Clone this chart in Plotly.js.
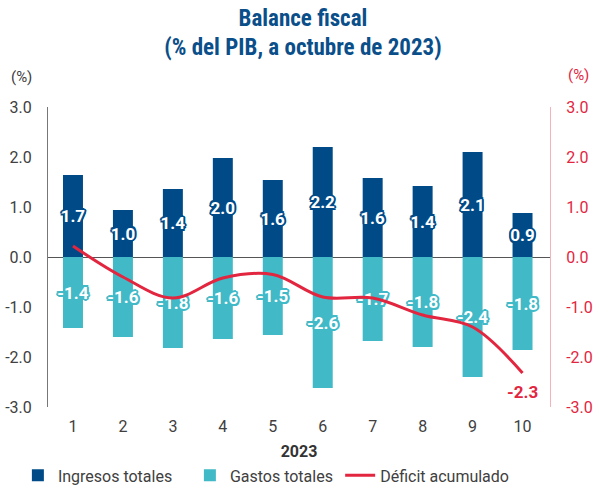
<!DOCTYPE html>
<html><head><meta charset="utf-8">
<script src="https://cdn.plot.ly/plotly-3.0.1.min.js"></script>
<style>body{margin:0;padding:0;background:#fff}#c{width:594px;height:491px}</style>
</head><body><div id="c"></div>
<script>
const months = [1,2,3,4,5,6,7,8,9,10];
const ingresos = [1.64,0.94,1.36,1.98,1.54,2.2,1.58,1.42,2.1,0.88];
const ingresosLabels = ["1.7","1.0","1.4","2.0","1.6","2.2","1.6","1.4","2.1","0.9"];
const gastos = [-1.42,-1.6,-1.82,-1.64,-1.56,-2.62,-1.68,-1.8,-2.4,-1.86];
const gastosLabels = ["-1.4","-1.6","-1.8","-1.6","-1.5","-2.6","-1.7","-1.8","-2.4","-1.8"];
const deficit = [0.22,-0.4,-0.82,-0.42,-0.35,-0.8,-0.82,-1.16,-1.4,-2.32];
const deficitLastLabel = "-2.3";
const tickVals = [-3,-2,-1,0,1,2,3];
const tickText = ["-3.0","-2.0","-1.0","0.0","1.0","2.0","3.0"];

const BLUE = "#004b87", TEAL = "#41b9c6", RED = "#e3263f";
function outline(c){
  const o=[];
  for(const [dx,dy] of [[-2,0],[2,0],[0,-2],[0,2],[-1.5,-1.5],[1.5,-1.5],[-1.5,1.5],[1.5,1.5]]) o.push(dx+"px "+dy+"px 0 "+c);
  return o.join(", ");
}
const FONT = "Roboto, 'Noto Sans', sans-serif";
const last = months.length-1;

const traces = [
 {type:"bar", name:"Ingresos totales", x:months, y:ingresos, marker:{color:BLUE}, width:0.4,
  text:ingresosLabels, texttemplate:"%{text}", textposition:"inside", insidetextanchor:"middle", constraintext:"none", textangle:0,
  textfont:{color:"#ffffff", size:17, family:FONT, weight:700, shadow:outline(BLUE)}, hoverinfo:"skip"},
 {type:"bar", name:"Gastos totales", x:months, y:gastos, marker:{color:TEAL}, width:0.4,
  text:gastosLabels, texttemplate:"%{text}", textposition:"inside", insidetextanchor:"middle", constraintext:"none", textangle:0,
  textfont:{color:"#ffffff", size:17, family:FONT, weight:700, shadow:outline(TEAL)}, hoverinfo:"skip"},
 {type:"scatter", name:"Déficit acumulado", x:months, y:deficit, yaxis:"y2", mode:"lines", legend:"legend2",
  line:{color:RED, width:3, shape:"spline", smoothing:1}, hoverinfo:"skip"}
];

const layout = {
  width:594, height:491, paper_bgcolor:"#fff", plot_bgcolor:"#fff",
  margin:{l:48, r:44, t:107, b:84, autoexpand:false},
  barmode:"relative", showlegend:true,
  font:{family:FONT, color:"#404040", size:16},
  title:{text:"<b>Balance fiscal<br>(% del PIB, a octubre de 2023)</b>", x:0.51, xanchor:"center", y:0.948, yanchor:"middle",
    font:{family:"'Liberation Sans Narrow', 'Roboto Condensed', Roboto, sans-serif", size:23, color:"#0b4f8a"}},
  xaxis:{range:[0.5,10.55], tickvals:months, ticktext:months.map(String), showline:false, showgrid:false, zeroline:false,
    ticks:"", tickfont:{size:16, color:"#404040"}, automargin:false, ticklabelstandoff:8,
    title:{text:"<b>2023</b>", font:{size:16, color:"#333"}, standoff:10}},
  yaxis:{range:[-3,3], tickvals:tickVals, ticktext:tickText, showgrid:false, zeroline:true, zerolinecolor:"#555", zerolinewidth:1,
    showline:true, linecolor:"#777", linewidth:1, ticks:"", ticklen:0, tickfont:{size:16, color:"#404040"}, automargin:false, ticklabelstandoff:12},
  yaxis2:{range:[-3,3], overlaying:"y", side:"right", tickvals:tickVals, ticktext:tickText, showgrid:false, zeroline:false,
    showline:true, linecolor:"#f3b3bd", linewidth:1, ticks:"", tickfont:{size:16, color:RED}, automargin:false, ticklabelstandoff:12},
  legend:{orientation:"h", x:-0.06, xanchor:"left", y:-0.228, yanchor:"middle", font:{size:16, color:"#404040"},
    itemwidth:30, traceorder:"normal", entrywidth:127},
  legend2:{orientation:"h", x:0.582, xanchor:"left", y:-0.228, yanchor:"middle", font:{size:16, color:"#404040"},
    itemwidth:30},
  annotations:[
    {text:"(%)", xref:"paper", yref:"paper", x:-0.052, y:1.1, xanchor:"center", yanchor:"middle", showarrow:false, font:{size:15, color:"#404040"}},
    {text:"(%)", xref:"paper", yref:"paper", x:1.056, y:1.107, xanchor:"center", yanchor:"middle", showarrow:false, font:{size:15, color:RED}},
    {text:"<b>"+deficitLastLabel+"</b>", x:months[last], y:deficit[last], xref:"x", yref:"y2", yshift:-19, showarrow:false,
      font:{size:17, color:RED}}
  ]
};
Plotly.newPlot("c", traces, layout, {displayModeBar:false, staticPlot:true});
</script></body></html>
